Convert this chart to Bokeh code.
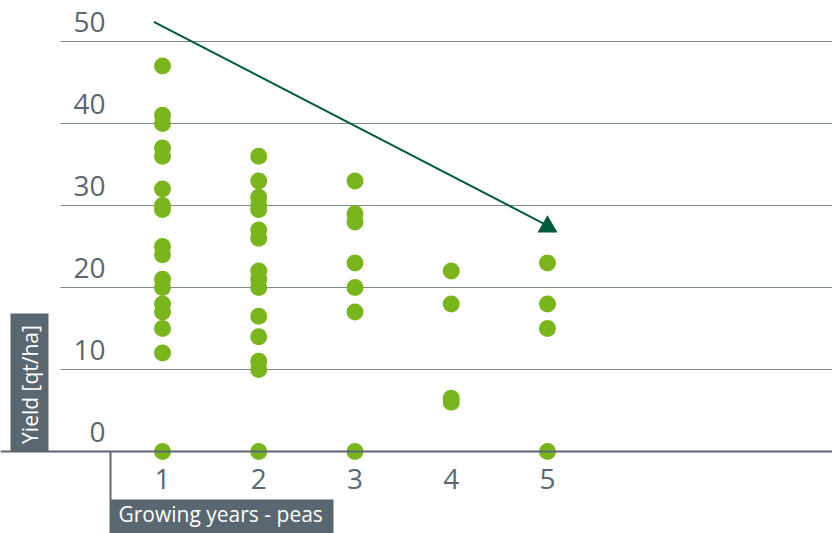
import math
from bokeh.plotting import figure
from bokeh.models import FixedTicker, BoxAnnotation, Label, Range1d
from bokeh.core.properties import value
from bokeh.embed import file_html
from bokeh.resources import INLINE

# ---------------- data ----------------
x_ticks = [1, 2, 3, 4, 5]
x_tick_labels = ["1", "2", "3", "4", "5"]
y_ticks = [0, 10, 20, 30, 40, 50]
y_tick_labels = ["0", "10", "20", "30", "40", "50"]

yield_year1 = [47, 41, 40, 37, 36, 32, 30, 29.5, 25, 24, 21, 20, 18, 17, 15, 12, 0]
yield_year2 = [36, 33, 31, 30, 29.5, 27, 26, 22, 21, 20, 16.5, 14, 11, 10, 0]
yield_year3 = [33, 29, 28, 23, 20, 17, 0]
yield_year4 = [22, 18, 6.5, 6]
yield_year5 = [23, 18, 15, 0]

trend_x = [0.91, 4.96]
trend_y = [52.4, 27.8]
head_x = [5.0]
head_y = [27.4]

x_label = "Growing years - peas"
y_label = "Yield [qt/ha]"

# ---------------- styling / layout ----------------
SLATE = "#5a6770"
GREEN = "#7ab51d"
DARK_GREEN = "#005a3c"
FONT = "Open Sans"

W, H = 832, 533
PX_PER_X = 96.25
PX_PER_Y = 8.2
X0 = 1 - 162 / PX_PER_X
X1 = X0 + W / PX_PER_X
Y1 = 451 / PX_PER_Y
Y0 = Y1 - H / PX_PER_Y


def px_x(px):
    return X0 + px / PX_PER_X


def px_y(py):
    return Y1 - py / PX_PER_Y


xs, ys = [], []
for yr, vals in zip(x_ticks, [yield_year1, yield_year2, yield_year3, yield_year4, yield_year5]):
    xs += [yr] * len(vals)
    ys += vals

p = figure(width=W, height=H, x_range=Range1d(X0, X1), y_range=Range1d(Y0, Y1),
           output_backend="svg", toolbar_location=None,
           min_border=0, min_border_left=0, min_border_right=0,
           min_border_top=0, min_border_bottom=0)
p.outline_line_color = None
p.background_fill_color = "white"
p.border_fill_color = "white"

# grid
p.xgrid.visible = False
p.ygrid.ticker = FixedTicker(ticks=y_ticks[1:])
p.ygrid.grid_line_color = "#7d888e"
p.ygrid.grid_line_width = 1

# y axis hidden (labels drawn above grid lines)
p.yaxis.visible = False

# x axis at y=0
xa = p.xaxis[0]
xa.fixed_location = 0
xa.ticker = FixedTicker(ticks=x_ticks)
xa.major_label_overrides = {t: l for t, l in zip(x_ticks, x_tick_labels)}
xa.axis_line_color = SLATE
xa.axis_line_width = 2
xa.major_tick_in = 0
xa.major_tick_out = 0
xa.minor_tick_in = 0
xa.minor_tick_out = 0
xa.major_label_standoff = 17
xa.major_label_text_font = FONT
xa.major_label_text_font_size = "28px"
xa.major_label_text_color = SLATE

# trend arrow
p.line(trend_x, trend_y, line_color=DARK_GREEN, line_width=2)
p.scatter(head_x, head_y, marker="triangle", size=20, fill_color=DARK_GREEN, line_color=None)

# points
p.scatter(xs, ys, size=17, fill_color=GREEN, line_color=None)

# y tick labels
p.text(x=[px_x(105)] * len(y_ticks), y=y_ticks, text=y_tick_labels,
       text_font=value(FONT), text_font_size="28px", text_color=SLATE,
       text_align="right", text_baseline="alphabetic", y_offset=-20)

# cover the grid lines left of the label column
p.add_layout(BoxAnnotation(left=X0 - 1, right=px_x(60), top=Y1 + 1, bottom=px_y(445),
                           fill_color="white", fill_alpha=1, line_color=None))

# y label box
p.add_layout(BoxAnnotation(left=px_x(10), right=px_x(48), top=px_y(313), bottom=px_y(451),
                           fill_color=SLATE, fill_alpha=1, line_color=None))
p.add_layout(Label(x=px_x(29), y=px_y(384), text=y_label, angle=math.pi / 2,
                   text_align="center", text_baseline="alphabetic",
                   text_font=FONT, text_font_size="21px", text_color="white"))

# x label box and connector
p.add_layout(BoxAnnotation(left=px_x(109), right=px_x(111), top=px_y(451), bottom=Y0 - 1,
                           fill_color=SLATE, fill_alpha=1, line_color=None))
p.add_layout(BoxAnnotation(left=px_x(110), right=px_x(333), top=px_y(499), bottom=Y0 - 1,
                           fill_color=SLATE, fill_alpha=1, line_color=None))
p.add_layout(Label(x=px_x(118), y=px_y(513), text=x_label,
                   text_align="left", text_baseline="alphabetic",
                   text_font=FONT, text_font_size="21px", text_color="white"))

open("out.html", "w").write(file_html(p, INLINE))
